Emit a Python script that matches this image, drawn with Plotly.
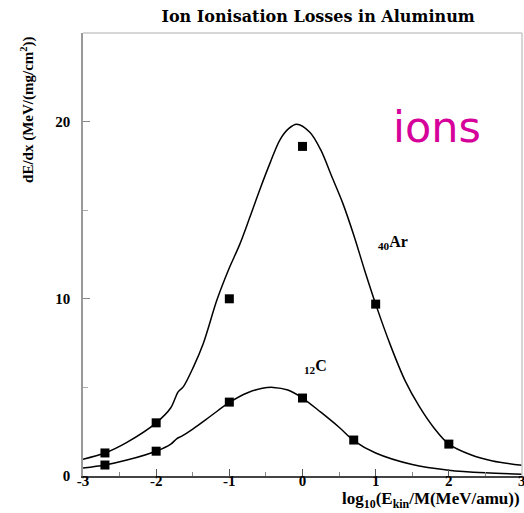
import plotly.graph_objects as go

# ---- data ----
ar_curve_x = [-3.0, -2.7, -2.4, -2.0, -1.8, -1.7, -1.63, -1.49, -1.356, -1.17, -1.015,
              -0.855, -0.72, -0.58, -0.44, -0.31, -0.19, -0.08, 0.1, 0.25, 0.4, 0.55,
              0.7, 0.85, 1.0, 1.2, 1.4, 1.6, 1.8, 2.0, 2.3, 2.6, 3.0]
ar_curve_y = [0.95, 1.3, 1.9, 3.0, 3.85, 4.75, 5.03, 6.16, 7.48, 9.93, 11.6,
              13.1, 14.6, 16.2, 17.7, 18.96, 19.6, 19.85, 19.4, 18.4, 16.9, 15.4,
              13.6, 11.6, 9.7, 7.4, 5.4, 3.9, 2.7, 1.8, 1.2, 0.85, 0.6]
ar_pts_x = [-2.7, -2.0, -1.0, 0.0, 1.0, 2.0]
ar_pts_y = [1.3, 3.0, 10.0, 18.6, 9.7, 1.8]

c_curve_x = [-3.0, -2.7, -2.4, -2.0, -1.8, -1.72, -1.65, -1.5, -1.25, -1.0, -0.75, -0.55,
             -0.4, -0.2, 0.0, 0.25, 0.5, 0.7, 1.0, 1.5, 2.0, 2.5, 3.0]
c_curve_y = [0.45, 0.62, 0.9, 1.4, 1.8, 2.1, 2.25, 2.65, 3.4, 4.15, 4.7, 4.95,
             5.0, 4.85, 4.4, 3.6, 2.75, 2.0, 1.3, 0.65, 0.33, 0.18, 0.1]
c_pts_x = [-2.7, -2.0, -1.0, 0.0, 0.7]
c_pts_y = [0.62, 1.4, 4.17, 4.4, 2.03]

x_ticks = [-3, -2, -1, 0, 1, 2, 3]
x_tick_labels = ["-3", "-2", "-1", "0", "1", "2", "3"]
y_ticks = [0, 10, 20]
y_tick_labels = ["0", "10", "20"]

serif = "Liberation Serif"
tick_font = dict(family=serif, size=15, color="black", weight="bold")

fig = go.Figure()
for cx, cy in [(ar_curve_x, ar_curve_y), (c_curve_x, c_curve_y)]:
    fig.add_trace(go.Scatter(x=cx, y=cy, mode="lines",
                             line=dict(color="black", width=1.5, shape="spline", smoothing=0.9),
                             hoverinfo="skip", showlegend=False))
for px, py in [(ar_pts_x, ar_pts_y), (c_pts_x, c_pts_y)]:
    fig.add_trace(go.Scatter(x=px, y=py, mode="markers",
                             marker=dict(symbol="square", size=9, color="black"), showlegend=False))

# the last x tick label sits on the page edge; draw it as an annotation so it is not dropped
edge_label = dict(text=x_tick_labels[-1], x=x_ticks[-1], xref="x", yref="paper", y=-0.011,
                  xanchor="center", yanchor="middle", showarrow=False, font=tick_font)

fig.update_layout(
    width=524, height=513, autosize=False,
    margin=dict(l=83, r=2, t=33, b=37),
    paper_bgcolor="white", plot_bgcolor="white",
    title=dict(text="Ion Ionisation Losses in Aluminum", x=0.607, xanchor="center",
               y=0.969, yanchor="middle",
               font=dict(family="DejaVu Serif", size=16, color="black", weight="bold")),
    xaxis=dict(range=[-3, 3], tickvals=x_ticks, ticktext=x_tick_labels,
               ticks="inside", ticklen=7, tickcolor="#555",
               minor=dict(dtick=0.5, ticks="inside", ticklen=4, tickcolor="#888"),
               showgrid=False, zeroline=False, showline=True, linecolor="#444", linewidth=1.5,
               tickfont=tick_font, ticklabelstandoff=-10),
    yaxis=dict(range=[0, 25], tickvals=y_ticks, ticktext=y_tick_labels,
               ticks="inside", ticklen=7, tickcolor="#888",
               minor=dict(dtick=5, ticks="inside", ticklen=5, tickcolor="#aaa"),
               showgrid=False, zeroline=False, showline=True, linecolor="#999", linewidth=1.5,
               tickfont=tick_font, ticklabelstandoff=8),
    shapes=[
        dict(type="line", xref="paper", yref="paper", x0=0, x1=1, y0=1, y1=1,
             line=dict(color="#c8c8c8", width=1.5)),
        dict(type="line", xref="paper", yref="paper", x0=1, x1=1, y0=0, y1=1,
             line=dict(color="#c8c8c8", width=1.5)),
    ],
    annotations=[
        dict(text="dE/dx (MeV/(mg/cm<sup>2</sup>))", xref="paper", yref="paper",
             x=-0.128, y=0.826, xanchor="center", yanchor="middle",
             textangle=-90, showarrow=False,
             font=dict(family=serif, size=15, color="black", weight="bold")),
        dict(text="log<sub>10</sub>(E<sub>kin</sub>/M(MeV/amu))", xref="paper", yref="paper",
             x=1.0, y=-0.054, xanchor="right", yanchor="middle", showarrow=False,
             font=dict(family=serif, size=17, color="black", weight="bold")),
        dict(text="<sub>40</sub>Ar", x=1.24, y=13.2, xanchor="center", yanchor="middle",
             showarrow=False, font=dict(family=serif, size=16, color="black", weight="bold")),
        dict(text="<sub>12</sub>C", x=0.18, y=6.2, xanchor="center", yanchor="middle",
             showarrow=False, font=dict(family=serif, size=16, color="black", weight="bold")),
        dict(text="ions", x=1.84, y=19.7, xanchor="center", yanchor="middle", showarrow=False,
             font=dict(family="DejaVu Sans", size=43, color="#d6009a")),
        edge_label,
    ],
)

post = ("document.body.style.margin='0';document.body.style.overflow='hidden';"
        "var gd=document.getElementById('{plot_id}');"
        "Plotly.relayout(gd,{width:524,height:513});")

fig.write_html("out.html", post_script=post, config={"displayModeBar": False})
